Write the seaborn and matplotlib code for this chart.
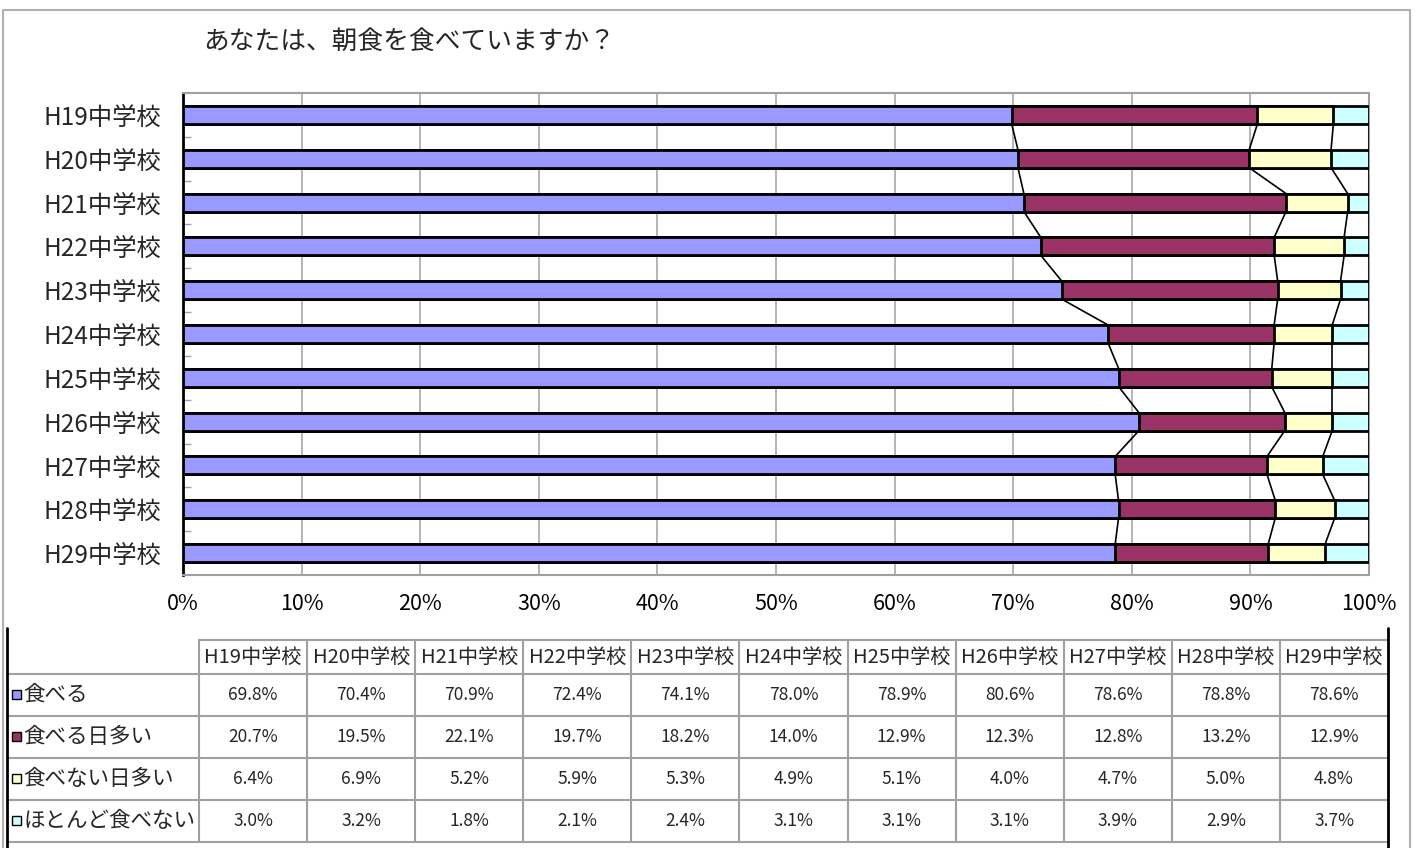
import numpy as np
import pandas as pd
import matplotlib.pyplot as plt
from matplotlib.patches import Rectangle
import seaborn as sns

sns.set_theme(style="white")
plt.rcParams['font.family'] = ['Noto Sans CJK JP', 'DejaVu Sans']

title = 'あなたは、朝食を食べていますか？'
schools = ['H19中学校', 'H20中学校', 'H21中学校', 'H22中学校', 'H23中学校', 'H24中学校',
           'H25中学校', 'H26中学校', 'H27中学校', 'H28中学校', 'H29中学校']
series = ['食べる', '食べる日多い', '食べない日多い', 'ほとんど食べない']
taberu = [69.8, 70.4, 70.9, 72.4, 74.1, 78.0, 78.9, 80.6, 78.6, 78.8, 78.6]
taberu_ooi = [20.7, 19.5, 22.1, 19.7, 18.2, 14.0, 12.9, 12.3, 12.8, 13.2, 12.9]
tabenai_ooi = [6.4, 6.9, 5.2, 5.9, 5.3, 4.9, 5.1, 4.0, 4.7, 5.0, 4.8]
hotondo = [3.0, 3.2, 1.8, 2.1, 2.4, 3.1, 3.1, 3.1, 3.9, 2.9, 3.7]
colors = ['#9999FF', '#993366', '#FFFFCC', '#CCFFFF']

vals = np.array([taberu, taberu_ooi, tabenai_ooi, hotondo])
share = vals / vals.sum(axis=0) * 100   # 100% stacked
cum = np.cumsum(share, axis=0)

W, H = 1423, 848
fig = plt.figure(figsize=(W / 100, H / 100), dpi=100)

# overlay axes in pixel coordinates for frame, title and table
bg = fig.add_axes([0, 0, 1, 1])
bg.set_xlim(0, W)
bg.set_ylim(H, 0)
bg.axis('off')

ax = fig.add_axes([183 / W, 1 - 575 / H, (1369 - 183) / W, (575 - 93) / H])
bw = 0.41
for k in range(3, -1, -1):
    df = pd.DataFrame({'school': schools, 'cum': cum[k]})
    sns.barplot(data=df, x='cum', y='school', order=schools, orient='h', color=colors[k],
                saturation=1, edgecolor='black', linewidth=2, width=bw, ax=ax, zorder=3)

# series lines
for k in range(4):
    for i in range(len(schools) - 1):
        ax.plot([cum[k][i], cum[k][i + 1]], [i + bw / 2, i + 1 - bw / 2],
                color='black', lw=1.2, zorder=4)

ax.set_xlim(0, 100)
ax.set_ylim(len(schools) - 0.5, -0.5)
ax.set_xticks(range(0, 101, 10))
ax.set_xticklabels([f'{t}%' for t in range(0, 101, 10)], fontsize=15.5)
ax.set_yticks(range(len(schools)))
ax.set_yticklabels(schools, fontsize=17.5)
ax.set_yticks(np.arange(0.5, len(schools) - 1, 1), minor=True)
ax.tick_params(axis='x', length=0, pad=13, colors='black')
ax.tick_params(axis='y', which='major', length=0, pad=16)
ax.tick_params(axis='y', which='minor', length=6, direction='in', color='#a0a0a0', left=True)
ax.set_xlabel('')
ax.set_ylabel('')
ax.xaxis.grid(True, color='#a8a8a8', lw=1.2)
ax.set_axisbelow(True)
for s in ['top', 'right', 'bottom']:
    ax.spines[s].set_color('#a0a0a0')
    ax.spines[s].set_linewidth(1.5)
ax.spines['left'].set_color('black')
ax.spines['left'].set_linewidth(2)

# chart frame
bg.plot([3, 3, 1410, 1410], [H, 10, 10, H], color='#b0b0b0', lw=1.5)
bg.text(203, 42, title, fontsize=18.5, va='center', ha='left')

# data table
x0, lab_r, x1 = 7, 199, 1388
col_w = (x1 - lab_r) / len(schools)
rows_y = [640, 674, 716, 758, 800, 842]
grid_c = '#a0a0a0'
bg.plot([lab_r, x1], [rows_y[0], rows_y[0]], color=grid_c, lw=1.5)
for y in rows_y[1:]:
    bg.plot([x0, x1], [y, y], color=grid_c, lw=1.5)
for j in range(len(schools)):
    xx = lab_r + j * col_w
    bg.plot([xx, xx], [rows_y[0], rows_y[-1]], color=grid_c, lw=1.5)
bg.plot([x0, x0], [628, H], color='black', lw=2)
bg.plot([x1, x1], [628, H], color='black', lw=2)

for j, s in enumerate(schools):
    bg.text(lab_r + (j + 0.5) * col_w, (rows_y[0] + rows_y[1]) / 2, s,
            fontsize=14.5, ha='center', va='center')
for r, name in enumerate(series):
    yc = (rows_y[r + 1] + rows_y[r + 2]) / 2
    bg.add_patch(Rectangle((12, yc - 5), 9, 9, facecolor=colors[r], edgecolor='black', lw=1))
    bg.text(23, yc, name, fontsize=15.5, ha='left', va='center')
    for j in range(len(schools)):
        bg.text(lab_r + (j + 0.5) * col_w, yc, f'{vals[r][j]:.1f}%',
                fontsize=12.5, ha='center', va='center')

fig.savefig('out.png', dpi=100)
